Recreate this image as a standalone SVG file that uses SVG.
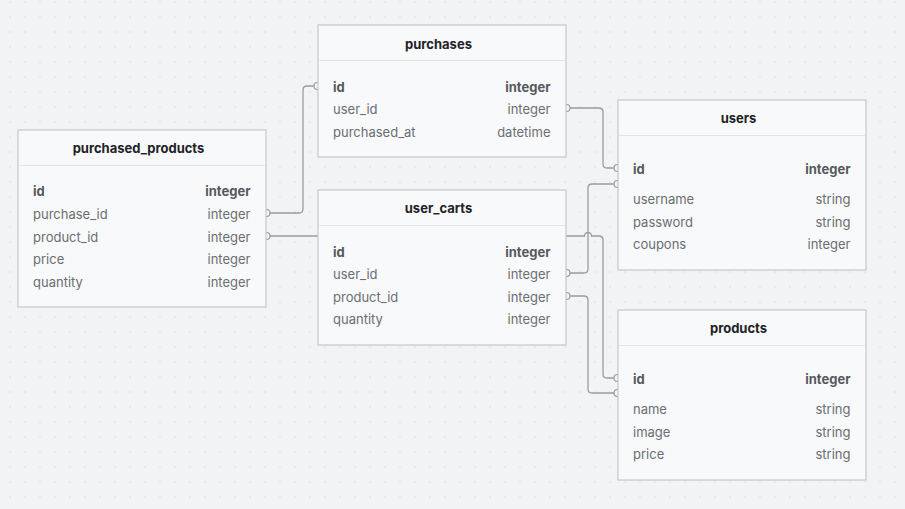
<svg xmlns="http://www.w3.org/2000/svg" width="905" height="509" viewBox="0 0 905 509">
<defs>
<pattern id="dots" x="0" y="0" width="15" height="15" patternUnits="userSpaceOnUse">
<circle cx="10" cy="2" r="0.8" fill="#dcdde0"/>
</pattern>
<style>
.box{fill:#f8f9fa;stroke:#c6c7c9;stroke-width:1.2}
.sep{stroke:#e3e4e6;stroke-width:1}
.title{font-family:Inter,"Liberation Sans",sans-serif;font-size:13px;font-weight:700;fill:#1f2328;text-anchor:middle}
.f{font-family:Inter,"Liberation Sans",sans-serif;font-size:13px;fill:#6a6e73}
.t{font-family:Inter,"Liberation Sans",sans-serif;font-size:13px;fill:#6a6e73;text-anchor:end}
.pk{font-weight:700;fill:#55595e}
.conn{fill:none;stroke:#9a9ca0;stroke-width:1.3}
.end{fill:#f3f4f6;stroke:#9a9ca0;stroke-width:1.2}
</style>
</defs>
<rect width="905" height="509" fill="#f2f3f5"/>
<rect width="905" height="509" fill="url(#dots)"/>
<g id="connectors">
<path class="conn" d="M266,213 H299 Q303,213 303,209 V90 Q303,86 307,86 H318"/>
<path class="conn" d="M266,236 H584.5 A3.5,3.5 0 0 1 591.5,236 H599 Q603,236 603,240 V374 Q603,378 607,378 H618"/>
<path class="conn" d="M566,108 H599 Q603,108 603,112 V164 Q603,168 607,168 H618"/>
<path class="conn" d="M566,273 H584 Q588,273 588,269 V188 Q588,184 592,184 H618"/>
<path class="conn" d="M566,296 H584 Q588,296 588,300 V389 Q588,393 592,393 H618"/>
<circle class="end" cx="266.5" cy="213" r="3.5"/>
<circle class="end" cx="317.5" cy="86" r="3.5"/>
<circle class="end" cx="266.5" cy="236" r="3.5"/>
<circle class="end" cx="566.5" cy="108" r="3.5"/>
<circle class="end" cx="617.5" cy="168" r="3.5"/>
<circle class="end" cx="566.5" cy="273" r="3.5"/>
<circle class="end" cx="617.5" cy="184" r="3.5"/>
<circle class="end" cx="566.5" cy="296" r="3.5"/>
<circle class="end" cx="617.5" cy="378" r="3.5"/>
<circle class="end" cx="617.5" cy="393" r="3.5"/>
</g>
<g id="purchases">
<rect class="box" x="318" y="25" width="248" height="132"/>
<line class="sep" x1="318.6" y1="60.5" x2="565.4" y2="60.5"/>
<text class="title" x="438.5" y="48.5">purchases</text>
<text class="f pk" x="333" y="91.5">id</text><text class="t pk" x="550.5" y="91.5">integer</text>
<text class="f" x="333" y="113.5">user_id</text><text class="t" x="550.5" y="113.5">integer</text>
<text class="f" x="333" y="136.5">purchased_at</text><text class="t" x="550.5" y="136.5">datetime</text>
</g>
<g id="purchased_products">
<rect class="box" x="18" y="130" width="248" height="177"/>
<line class="sep" x1="18.6" y1="165.5" x2="265.4" y2="165.5"/>
<text class="title" x="138.5" y="152.5">purchased_products</text>
<text class="f pk" x="33" y="195.5">id</text><text class="t pk" x="250.5" y="195.5">integer</text>
<text class="f" x="33" y="218.5">purchase_id</text><text class="t" x="250.5" y="218.5">integer</text>
<text class="f" x="33" y="241.5">product_id</text><text class="t" x="250.5" y="241.5">integer</text>
<text class="f" x="33" y="263.5">price</text><text class="t" x="250.5" y="263.5">integer</text>
<text class="f" x="33" y="286.5">quantity</text><text class="t" x="250.5" y="286.5">integer</text>
</g>
<g id="user_carts">
<rect class="box" x="318" y="190" width="248" height="155"/>
<line class="sep" x1="318.6" y1="225.5" x2="565.4" y2="225.5"/>
<text class="title" x="438.5" y="212.5">user_carts</text>
<text class="f pk" x="333" y="256.5">id</text><text class="t pk" x="550.5" y="256.5">integer</text>
<text class="f" x="333" y="278.5">user_id</text><text class="t" x="550.5" y="278.5">integer</text>
<text class="f" x="333" y="301.5">product_id</text><text class="t" x="550.5" y="301.5">integer</text>
<text class="f" x="333" y="323.5">quantity</text><text class="t" x="550.5" y="323.5">integer</text>
</g>
<g id="users">
<rect class="box" x="618" y="100" width="248" height="170"/>
<line class="sep" x1="618.6" y1="135.5" x2="865.4" y2="135.5"/>
<text class="title" x="738.5" y="122.5">users</text>
<text class="f pk" x="633" y="173.5">id</text><text class="t pk" x="850.5" y="173.5">integer</text>
<text class="f" x="633" y="203.5">username</text><text class="t" x="850.5" y="203.5">string</text>
<text class="f" x="633" y="226.5">password</text><text class="t" x="850.5" y="226.5">string</text>
<text class="f" x="633" y="248.5">coupons</text><text class="t" x="850.5" y="248.5">integer</text>
</g>
<g id="products">
<rect class="box" x="618" y="310" width="248" height="170"/>
<line class="sep" x1="618.6" y1="345.5" x2="865.4" y2="345.5"/>
<text class="title" x="738.5" y="332.5">products</text>
<text class="f pk" x="633" y="383.5">id</text><text class="t pk" x="850.5" y="383.5">integer</text>
<text class="f" x="633" y="413.5">name</text><text class="t" x="850.5" y="413.5">string</text>
<text class="f" x="633" y="436.5">image</text><text class="t" x="850.5" y="436.5">string</text>
<text class="f" x="633" y="458.5">price</text><text class="t" x="850.5" y="458.5">string</text>
</g>
</svg>
